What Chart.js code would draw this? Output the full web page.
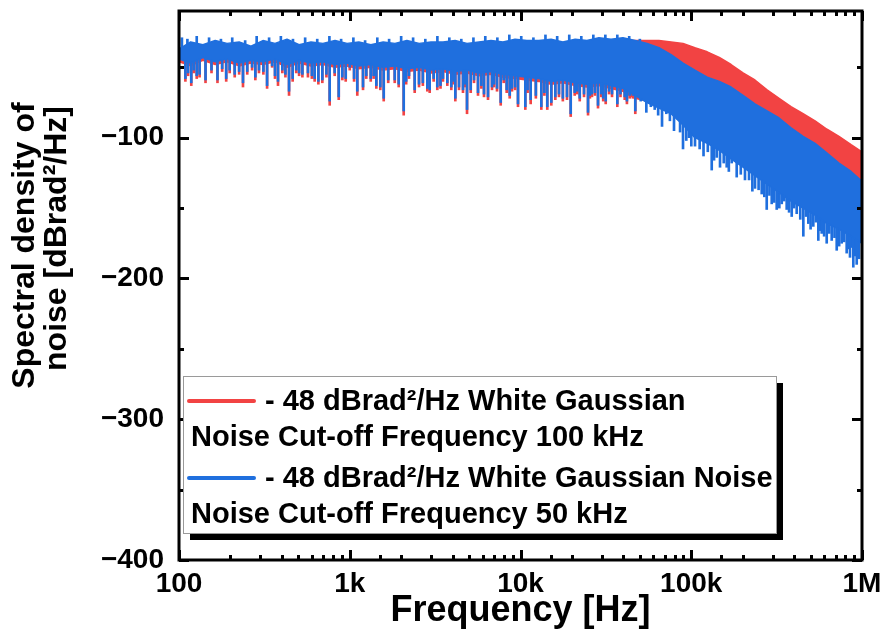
<!DOCTYPE html>
<html>
<head>
<meta charset="utf-8">
<title>Spectral density of noise</title>
<script src="https://cdn.jsdelivr.net/npm/chart.js@4.4.1/dist/chart.umd.min.js"></script>
<style>
  html, body { margin: 0; padding: 0; background: #fff; }
  #wrap { position: relative; width: 884px; height: 637px; }
</style>
</head>
<body>
<div id="wrap"><canvas id="noiseChart"></canvas></div>
<script>
// Frequency grid (Hz) for the envelope of both traces
const freqHz = [100, 117, 138, 163, 191, 225, 264, 310, 365, 429, 505, 593, 697, 820, 964,
  1130, 1330, 1570, 1840, 2160, 2550, 2990, 3520, 4140, 4860, 5710, 6720, 7900, 9290,
  10900, 12800, 15100, 17700, 20900, 24500, 28800, 33900, 39800, 46900, 55100, 64700,
  76200, 89500, 105000, 124000, 146000, 171000, 201000, 236000, 278000, 327000, 384000,
  452000, 531000, 624000, 733000, 863000, 1000000];

// 50 kHz cut-off trace: upper edge and lower edge of the dense noise band (dBrad^2/Hz)
const blueTop = [-37, -32, -34, -31, -33, -32, -35, -31, -33, -30, -34, -32, -33, -31, -33,
  -32, -34, -32, -33, -31, -33, -32, -32, -31, -33, -32, -31, -32, -30, -31, -31, -30, -32,
  -30, -31, -29, -30, -29, -31, -33, -36, -41, -47, -52, -57, -60, -64, -70, -76, -81, -86,
  -93, -99, -104, -111, -118, -124, -131];
const blueBase = [-44, -47, -43, -46, -44, -47, -45, -46, -44, -48, -45, -47, -46, -48, -47,
  -49, -48, -50, -49, -51, -50, -52, -51, -53, -52, -54, -53, -55, -56, -57, -58, -60, -59,
  -61, -62, -61, -63, -65, -70, -75, -79, -83, -91, -100, -104, -109, -115, -121, -127, -133,
  -139, -145, -150, -155, -161, -165, -170, -175];

// 100 kHz cut-off trace
const redTop = [-38, -34, -35, -33, -34, -34, -36, -33, -34, -32, -35, -34, -34, -33, -34,
  -34, -35, -34, -34, -33, -34, -34, -33, -33, -34, -33, -33, -33, -32, -32, -33, -32, -33,
  -32, -32, -31, -32, -31, -31, -31, -31, -32, -33, -36, -39, -43, -48, -54, -59, -66, -72,
  -78, -83, -88, -94, -99, -105, -110];
const redBase = [-46, -49, -45, -48, -46, -49, -47, -48, -46, -50, -47, -49, -48, -50, -49,
  -51, -50, -52, -51, -53, -52, -54, -53, -55, -54, -56, -55, -57, -58, -59, -60, -62, -61,
  -63, -64, -63, -65, -67, -72, -74, -76, -79, -83, -86, -90, -94, -98, -103, -108, -113,
  -119, -124, -129, -134, -139, -145, -150, -155];

// Deep downward noise spikes below the band
const spikeHz = [109, 118, 122, 132, 143, 168, 179, 189, 198, 225, 237, 251, 268, 294, 328,
  351, 380, 403, 441, 486, 528, 569, 623, 691, 763, 816, 862, 947, 1000, 1107, 1196, 1250,
  1327, 1431, 1510, 1581, 1834, 1935, 2070, 2223, 2401, 2545, 2846, 2939, 3256, 3516, 3727,
  3933, 4152, 4364, 4605, 4862, 5110, 5342, 5638, 6113, 6452, 6809, 7286, 7658, 7974, 8647,
  8917, 9669, 10670, 11470, 13240, 14350, 15150, 15990, 18720, 19680, 20770, 22230, 23550,
  24860, 26230, 28440, 29730, 31550, 34350, 36890, 40760, 43600, 47020, 50580, 54570, 61090,
  67430, 71430, 79250, 83660, 89490, 93540, 100070, 105200, 118000, 131800, 141000, 147400,
  161300, 172600, 184600, 206400, 236300, 258600, 276700, 296000, 316600, 338800, 362200,
  387600, 414600, 453300, 484900, 518500, 554800, 580800, 621300, 664700, 711100, 760300,
  813500, 850600, 889300, 931100];
const blueSpikeTip = [-58, -61, -52, -55, -59, -59, -51, -58, -52, -53, -61, -53, -50, -52,
  -63, -49, -60, -52, -67, -52, -55, -54, -58, -59, -74, -54, -71, -58, -50, -67, -64, -56,
  -58, -63, -64, -72, -59, -62, -81, -56, -66, -62, -65, -66, -64, -58, -61, -64, -72, -64,
  -66, -80, -66, -59, -68, -69, -71, -64, -65, -75, -59, -70, -65, -76, -78, -73, -78, -78,
  -75, -71, -71, -83, -68, -72, -69, -82, -69, -77, -69, -74, -69, -76, -71, -70, -81, -74,
  -82, -80, -92, -83, -95, -87, -108, -102, -106, -106, -113, -123, -114, -121, -121, -118,
  -128, -130, -136, -140, -151, -147, -151, -147, -151, -156, -154, -170, -161, -163, -173,
  -168, -175, -173, -180, -175, -182, -185, -192, -190];
// red tips sit just under the blue ones; above ~47 kHz they are hidden behind the blue band
const redSpikeTip = [-60, -63, -54, -57, -61, -61, -53, -60, -54, -55, -64, -55, -52, -54,
  -65, -50, -63, -54, -70, -54, -57, -57, -60, -61, -77, -56, -73, -60, -52, -70, -66, -58,
  -60, -65, -66, -74, -61, -64, -84, -58, -68, -64, -67, -68, -66, -60, -63, -66, -74, -66,
  -68, -83, -68, -61, -70, -71, -73, -66, -67, -77, -61, -72, -67, -78, -80, -76, -80, -80,
  -77, -73, -73, -85, -70, -74, -71, -84, -71, -79, -71, -76, -71, -78, -73, -72, -83];

// Shallower spikes filling the comb between the deep ones
const minorSpikeHz = [113, 127, 155, 212, 280, 312, 365, 420, 463, 505, 600, 655, 730, 905,
  1060, 1380, 1680, 2140, 2680, 3100, 3400, 4050, 4750, 5900, 7000, 8300, 9300, 11000, 12300,
  13800, 16800, 17700, 21500, 25500, 27300, 30500, 33000, 38500, 42000, 45500, 58000, 64000,
  75000, 86000, 97000, 112000, 125000, 136000, 155000, 166000, 195000, 218000, 228000, 248000,
  268000, 287000, 306000, 328000, 350000, 374000, 400000, 435000, 470000, 500000, 537000,
  568000, 600000, 643000, 690000, 735000, 785000, 830000, 870000, 910000, 960000];
const blueMinorTip = [-54, -56, -52, -55, -57, -53, -56, -55, -58, -54, -56, -60, -55, -57,
  -58, -56, -59, -60, -61, -58, -63, -60, -62, -63, -62, -66, -64, -66, -70, -68, -69, -72,
  -67, -70, -68, -72, -67, -69, -74, -70, -78, -84, -88, -96, -100, -108, -110, -116, -118,
  -124, -126, -130, -138, -137, -142, -141, -146, -150, -145, -153, -150, -158, -156, -165,
  -160, -166, -170, -168, -171, -177, -174, -179, -178, -184, -186];
const redMinorTip = [-56, -58, -54, -57, -59, -55, -58, -57, -60, -56, -58, -62, -57, -59,
  -60, -58, -61, -62, -63, -60, -65, -62, -64, -65, -64, -68, -66, -68, -72, -70, -71, -74,
  -69, -72, -70, -74, -69, -71, -76, -72];

// Short upward strands on the top edge of the flat part
const hairHz = [104, 112, 127, 150, 176, 205, 244, 285, 337, 395, 465, 548, 645, 760, 890,
  1050, 1230, 1450, 1700, 2000, 2350, 2770, 3260, 3830, 4500, 5300, 6220, 7320, 8600, 10100,
  11900, 14000, 16400, 19300, 22700, 26700, 31400, 36900, 43300, 50000];
const blueHairTip = [-29, -30, -28, -29, -30, -29, -31, -28, -29, -28, -30, -29, -30, -28, -30,
  -29, -31, -29, -30, -28, -29, -30, -28, -29, -30, -29, -28, -29, -27, -28, -29, -27, -28,
  -27, -28, -27, -27, -27, -28, -30];

const xTickLabels = { 100: '100', 1000: '1k', 10000: '10k', 100000: '100k', 1000000: '1M' };
const yTickLabels = [-100, -200, -300, -400];

const RED = '#f24343';
const BLUE = '#1f6fde';
const FONT = "'Liberation Sans', Arial, sans-serif";

Chart.defaults.font.family = FONT;

function bandPoints(vals) {
  return freqHz.map((f, i) => ({ x: f, y: vals[i] }));
}

// grid index closest to f on a log axis
function nearestIdx(f) {
  let best = 0;
  for (let i = 1; i < freqHz.length; i++) {
    if (Math.abs(Math.log10(freqHz[i] / f)) < Math.abs(Math.log10(freqHz[best] / f))) best = i;
  }
  return best;
}

// vertical strands anchored in the middle of the band, reaching out to each tip
function strandBars(hz, tips, top, base) {
  return tips.map((t, i) => {
    const k = nearestIdx(hz[i]);
    return { x: hz[i], y: [t, (top[k] + base[k]) / 2] };
  });
}

function lineSet(label, data, color, fill, order) {
  return {
    type: 'line', label, data, order,
    borderColor: color, backgroundColor: color,
    borderWidth: 1.5, pointRadius: 0, tension: 0,
    borderJoinStyle: 'bevel', fill
  };
}

function strandSet(label, data, color, order) {
  return {
    type: 'bar', label, data, order,
    backgroundColor: color, borderWidth: 0,
    barThickness: 2, grouped: false
  };
}

// inward ticks on all four sides plus the heavy frame
const framePlugin = {
  id: 'frame',
  afterDatasetsDraw(chart) {
    const { ctx, chartArea: a, scales: { x, y } } = chart;
    ctx.save();
    ctx.strokeStyle = '#000';
    ctx.lineWidth = 3;
    ctx.beginPath();
    x.ticks.forEach(t => {
      const lg = Math.log10(t.value);
      const major = Math.abs(lg - Math.round(lg)) < 1e-6;
      const len = major ? 10 : 5;
      const px = Math.round(x.getPixelForValue(t.value)) + 0.5;
      ctx.moveTo(px, a.bottom); ctx.lineTo(px, a.bottom - len);
      ctx.moveTo(px, a.top); ctx.lineTo(px, a.top + len);
    });
    y.ticks.forEach(t => {
      if (t.value % 50 !== 0) return;
      const len = t.value % 100 === 0 ? 10 : 5;
      const py = Math.round(y.getPixelForValue(t.value)) + 0.5;
      ctx.moveTo(a.left, py); ctx.lineTo(a.left + len, py);
      ctx.moveTo(a.right, py); ctx.lineTo(a.right - len, py);
    });
    ctx.stroke();
    ctx.strokeRect(a.left, a.top, a.right - a.left, a.bottom - a.top);
    ctx.restore();
  }
};

const legendRows = [
  { color: RED, text: '- 48 dBrad\u00b2/Hz White Gaussian' },
  { text: 'Noise Cut-off Frequency 100 kHz' },
  { color: BLUE, text: '- 48 dBrad\u00b2/Hz White Gaussian Noise' },
  { text: 'Noise Cut-off Frequency 50 kHz' }
];

// boxed legend with a solid drop shadow
const legendPlugin = {
  id: 'boxLegend',
  afterDraw(chart) {
    const { ctx, chartArea: a } = chart;
    const left = a.left + 4, top = 376, w = 593, h = 157;
    const rowY = [25, 61, 102, 138];
    ctx.save();
    ctx.fillStyle = '#000';
    ctx.fillRect(left + 7, top + 7, w, h);
    ctx.fillStyle = '#fff';
    ctx.fillRect(left, top, w, h);
    ctx.strokeStyle = '#9a9a9a';
    ctx.lineWidth = 1;
    ctx.strokeRect(left + 0.5, top + 0.5, w, h);
    ctx.font = 'bold 29px ' + FONT;
    ctx.textBaseline = 'middle';
    ctx.textAlign = 'left';
    legendRows.forEach((row, i) => {
      const cy = top + rowY[i];
      ctx.fillStyle = '#000';
      if (row.color) {
        ctx.strokeStyle = row.color;
        ctx.lineWidth = 4;
        ctx.lineCap = 'round';
        ctx.beginPath();
        ctx.moveTo(left + 6, cy);
        ctx.lineTo(left + 71, cy);
        ctx.stroke();
        ctx.fillText(row.text, left + 82, cy + 1);
      } else {
        ctx.fillText(row.text, left + 8, cy + 1);
      }
    });
    ctx.restore();
  }
};

// two-line rotated y title
const yTitlePlugin = {
  id: 'yTitle',
  afterDraw(chart) {
    const { ctx, chartArea: a } = chart;
    const cy = (a.top + a.bottom) / 2 - 43;
    ctx.save();
    ctx.fillStyle = '#000';
    ctx.font = 'bold 32px ' + FONT;
    ctx.textAlign = 'center';
    ctx.textBaseline = 'middle';
    [['Spectral density of', 25, 3], ['noise [dBrad\u00b2/Hz]', 57, -4]].forEach(([txt, cx, dy]) => {
      ctx.save();
      ctx.translate(cx, cy + dy);
      ctx.rotate(-Math.PI / 2);
      ctx.fillText(txt, 0, 0);
      ctx.restore();
    });
    ctx.restore();
  }
};

new Chart(document.getElementById('noiseChart'), {
  type: 'line',
  data: {
    datasets: [
      lineSet('50 kHz top', bandPoints(blueTop), BLUE, false, 0),
      lineSet('50 kHz', bandPoints(blueBase), BLUE, '-1', 0),
      strandSet('50 kHz spikes', strandBars(spikeHz, blueSpikeTip, blueTop, blueBase), BLUE, 0),
      strandSet('50 kHz minor spikes', strandBars(minorSpikeHz, blueMinorTip, blueTop, blueBase), BLUE, 0),
      strandSet('50 kHz hairs', strandBars(hairHz, blueHairTip, blueTop, blueBase), BLUE, 0),
      lineSet('100 kHz top', bandPoints(redTop), RED, false, 1),
      lineSet('100 kHz', bandPoints(redBase), RED, '-1', 1),
      strandSet('100 kHz spikes', strandBars(spikeHz, redSpikeTip, redTop, redBase), RED, 1),
      strandSet('100 kHz minor spikes', strandBars(minorSpikeHz, redMinorTip, redTop, redBase), RED, 1)
    ]
  },
  options: {
    responsive: true,
    maintainAspectRatio: false,
    animation: false,
    events: [],
    layout: { padding: { top: 11, right: 22, left: 0, bottom: 0 } },
    plugins: {
      legend: { display: false },
      tooltip: { enabled: false }
    },
    scales: {
      x: {
        type: 'logarithmic',
        min: 100,
        max: 1000000,
        offset: false,
        bounds: 'data',
        grid: { display: false, drawTicks: false },
        border: { display: false },
        ticks: {
          autoSkip: false,
          maxRotation: 0,
          padding: 7,
          color: '#000',
          font: { size: 28, weight: 'bold' },
          callback: value => xTickLabels[Math.round(value)] || ''
        },
        title: {
          display: true,
          text: 'Frequency [Hz]',
          color: '#000',
          font: { size: 36, weight: 'bold' },
          padding: { top: 0, bottom: 4 }
        },
        afterFit(scale) {
          scale.height = 77;
          scale.paddingLeft = 0;
          scale.paddingRight = 0;
        }
      },
      y: {
        type: 'linear',
        min: -400,
        max: -10,
        bounds: 'data',
        grid: { display: false, drawTicks: false },
        border: { display: false },
        ticks: {
          stepSize: 50,
          includeBounds: false,
          autoSkip: false,
          padding: 15,
          color: '#000',
          font: { size: 28, weight: 'bold' },
          callback: value => yTickLabels.includes(value) ? '\u2212' + Math.abs(value) : ''
        },
        afterFit(scale) {
          scale.width = 179;
          scale.paddingTop = 0;
          scale.paddingBottom = 0;
        }
      }
    }
  },
  plugins: [framePlugin, legendPlugin, yTitlePlugin]
});
</script>
</body>
</html>
